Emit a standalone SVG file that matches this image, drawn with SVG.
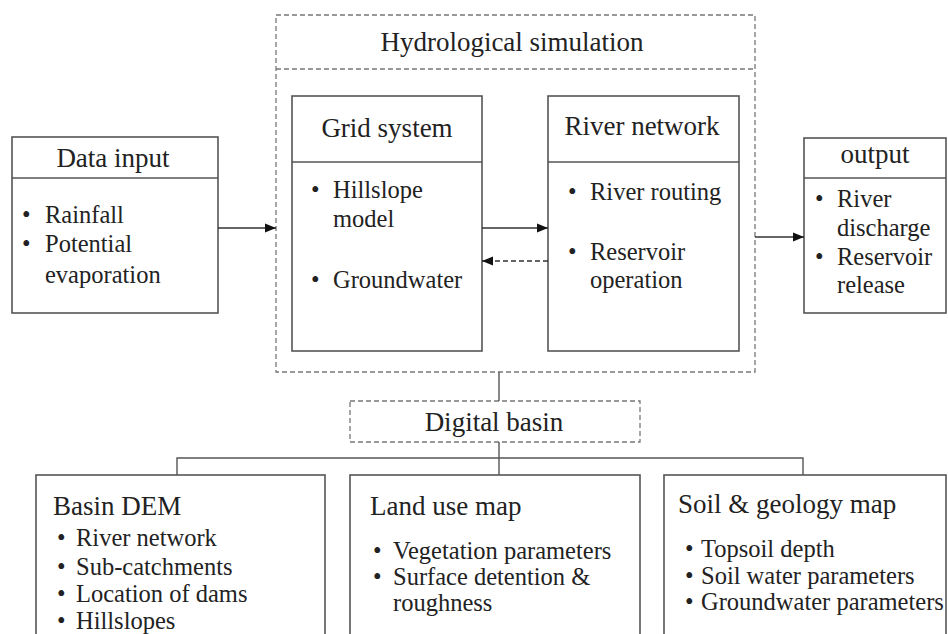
<svg xmlns="http://www.w3.org/2000/svg" width="948" height="634" viewBox="0 0 948 634">
  <style>
    .box { fill: #fff; stroke: #555; stroke-width: 1.6; }
    .dash { fill: none; stroke: #777; stroke-width: 1.3; stroke-dasharray: 5 3; }
    .sep { stroke: #555; stroke-width: 1.6; }
    .sepd { stroke: #777; stroke-width: 1.3; stroke-dasharray: 5 3; }
    .title { font-family: "Liberation Serif", "Times New Roman", serif; font-size: 27px; fill: #222; }
    .item { font-family: "Liberation Serif", "Times New Roman", serif; font-size: 24.5px; fill: #222; }
    .mid { text-anchor: middle; }
    .line { fill: none; stroke: #333; stroke-width: 1.6; }
    .linedash { fill: none; stroke: #333; stroke-width: 1.6; stroke-dasharray: 5 3; }
    .tree { fill: none; stroke: #555; stroke-width: 1.4; }
  </style>
  <defs>
    <marker id="arrow" markerUnits="userSpaceOnUse" markerWidth="12" markerHeight="10" refX="11" refY="5" orient="auto">
      <path d="M0,0.5 L11,5 L0,9.5 z" fill="#111"/>
    </marker>
  </defs>

  <!-- Hydrological simulation container -->
  <g id="hydro-sim">
    <rect class="dash" x="276" y="15" width="479" height="357"/>
    <line class="sepd" x1="276" y1="69" x2="755" y2="69"/>
    <text class="title mid" x="512" y="51">Hydrological simulation</text>
  </g>

  <!-- Data input -->
  <g id="data-input">
    <rect class="box" x="12" y="137" width="206" height="176"/>
    <line class="sep" x1="12" y1="178" x2="218" y2="178"/>
    <text class="title mid" x="113" y="167">Data input</text>
    <text class="item" x="22" y="223">•</text><text class="item" x="45" y="223">Rainfall</text>
    <text class="item" x="22" y="252">•</text><text class="item" x="45" y="252">Potential</text>
    <text class="item" x="45" y="283">evaporation</text>
  </g>

  <!-- Grid system -->
  <g id="grid-system">
    <rect class="box" x="292" y="96" width="190" height="255"/>
    <line class="sep" x1="292" y1="162" x2="482" y2="162"/>
    <text class="title mid" x="387" y="137">Grid system</text>
    <text class="item" x="311" y="198">•</text><text class="item" x="333" y="198">Hillslope</text>
    <text class="item" x="333" y="227">model</text>
    <text class="item" x="311" y="288">•</text><text class="item" x="333" y="288">Groundwater</text>
  </g>

  <!-- River network -->
  <g id="river-network">
    <rect class="box" x="548" y="96" width="191" height="255"/>
    <line class="sep" x1="548" y1="162" x2="739" y2="162"/>
    <text class="title mid" x="642" y="135">River network</text>
    <text class="item" x="568" y="200">•</text><text class="item" x="590" y="200">River routing</text>
    <text class="item" x="568" y="260">•</text><text class="item" x="590" y="260">Reservoir</text>
    <text class="item" x="590" y="288">operation</text>
  </g>

  <!-- Output -->
  <g id="output">
    <rect class="box" x="804" y="138" width="142" height="175"/>
    <line class="sep" x1="804" y1="178" x2="946" y2="178"/>
    <text class="title mid" x="875" y="163">output</text>
    <text class="item" x="815" y="207">•</text><text class="item" x="837" y="207">River</text>
    <text class="item" x="837" y="236">discharge</text>
    <text class="item" x="815" y="265">•</text><text class="item" x="837" y="265">Reservoir</text>
    <text class="item" x="837" y="293">release</text>
  </g>

  <!-- Digital basin -->
  <g id="digital-basin">
    <rect class="dash" x="350" y="401" width="290" height="41"/>
    <text class="title mid" x="494" y="431">Digital basin</text>
  </g>

  <!-- Basin DEM -->
  <g id="basin-dem">
    <rect class="box" x="36" y="475" width="289" height="170"/>
    <text class="title" x="53" y="515">Basin DEM</text>
    <text class="item" x="57" y="546">•</text><text class="item" x="76" y="546">River network</text>
    <text class="item" x="57" y="575">•</text><text class="item" x="76" y="575">Sub-catchments</text>
    <text class="item" x="57" y="602">•</text><text class="item" x="76" y="602">Location of dams</text>
    <text class="item" x="57" y="629">•</text><text class="item" x="76" y="629">Hillslopes</text>
  </g>

  <!-- Land use map -->
  <g id="land-use">
    <rect class="box" x="350" y="475" width="290" height="170"/>
    <text class="title" x="370" y="515">Land use map</text>
    <text class="item" x="373" y="559">•</text><text class="item" x="393" y="559">Vegetation parameters</text>
    <text class="item" x="373" y="585">•</text><text class="item" x="393" y="585">Surface detention &amp;</text>
    <text class="item" x="393" y="611">roughness</text>
  </g>

  <!-- Soil & geology map -->
  <g id="soil-geology">
    <rect class="box" x="664" y="475" width="282" height="170"/>
    <text class="title" x="678" y="513">Soil &amp; geology map</text>
    <text class="item" x="685" y="557">•</text><text class="item" x="701" y="557">Topsoil depth</text>
    <text class="item" x="685" y="584">•</text><text class="item" x="701" y="584">Soil water parameters</text>
    <text class="item" x="685" y="610">•</text><text class="item" x="701" y="610">Groundwater parameters</text>
  </g>

  <!-- Connectors -->
  <g id="connectors">
    <line class="line" x1="218" y1="228" x2="276" y2="228" marker-end="url(#arrow)"/>
    <line class="line" x1="482" y1="228" x2="548" y2="228" marker-end="url(#arrow)"/>
    <line class="linedash" x1="548" y1="261" x2="482" y2="261" marker-end="url(#arrow)"/>
    <line class="line" x1="755" y1="237" x2="804" y2="237" marker-end="url(#arrow)"/>
    <line class="tree" x1="499" y1="372" x2="499" y2="401"/>
    <line class="tree" x1="499" y1="442" x2="499" y2="475"/>
    <polyline class="tree" points="177,475 177,458 803,458 803,475"/>
  </g>
</svg>
